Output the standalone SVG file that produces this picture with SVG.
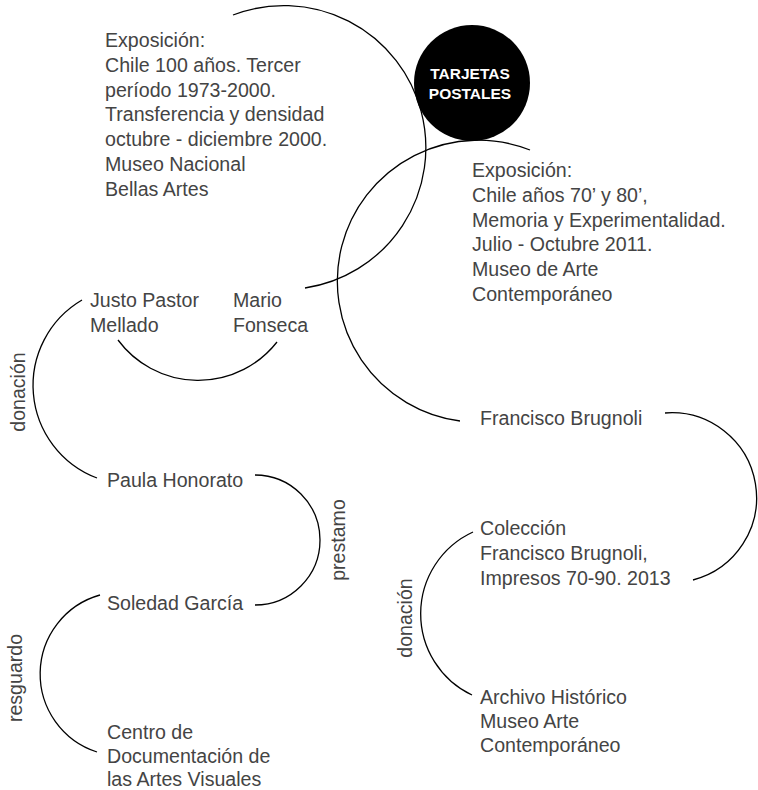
<svg xmlns="http://www.w3.org/2000/svg" width="758" height="790" viewBox="0 0 758 790">
<style>
.t{font-family:"Liberation Sans",Arial,sans-serif;font-size:19.6px;fill:#444}
.c{fill:none;stroke:#000;stroke-width:1.3}
.h{font-family:"Liberation Sans",Arial,sans-serif;font-size:15.5px;font-weight:bold;fill:#fff;text-anchor:middle}
.r{text-anchor:middle}
</style>
<rect width="758" height="790" fill="#fff"/>
<g id="connectors">
<path class="c" d="M233,15 A142,142 0 1 1 305,288"/>
<path class="c" d="M530,150 A141,141 0 1 0 460,421"/>
<path class="c" d="M118,340 A100,100 0 0 0 277,342"/>
<path class="c" d="M82,300 A99,99 0 0 0 97,478"/>
<path class="c" d="M255,475 A65,65 0 0 1 255,605"/>
<path class="c" d="M100,595 A82,82 0 0 0 97,752"/>
<path class="c" d="M473,532 A90,90 0 0 0 472,695"/>
<path class="c" d="M665,413 A85,85 0 0 1 693,580"/>
</g>
<g id="tarjetas">
<circle cx="472" cy="83" r="58" fill="#000"/>
<text class="h" x="470" y="79">TARJETAS</text>
<text class="h" x="470" y="99">POSTALES</text>
</g>
<g id="expo1">
<text class="t" x="105" y="47">Exposición:</text>
<text class="t" x="105" y="71.8">Chile 100 años. Tercer</text>
<text class="t" x="105" y="96.6">período 1973-2000.</text>
<text class="t" x="105" y="121.4">Transferencia y densidad</text>
<text class="t" x="105" y="146.2">octubre - diciembre 2000.</text>
<text class="t" x="105" y="171">Museo Nacional</text>
<text class="t" x="105" y="195.8">Bellas Artes</text>
</g>
<g id="expo2">
<text class="t" x="472" y="177">Exposición:</text>
<text class="t" x="472" y="201.8">Chile años 70’ y 80’,</text>
<text class="t" x="472" y="226.6">Memoria y Experimentalidad.</text>
<text class="t" x="472" y="251.4">Julio - Octubre 2011.</text>
<text class="t" x="472" y="276.2">Museo de Arte</text>
<text class="t" x="472" y="301">Contemporáneo</text>
</g>
<g id="justo">
<text class="t" x="90" y="307">Justo Pastor</text>
<text class="t" x="90" y="332">Mellado</text>
</g>
<g id="mario">
<text class="t" x="233" y="307">Mario</text>
<text class="t" x="233" y="332">Fonseca</text>
</g>
<g id="paula"><text class="t" x="107" y="487">Paula Honorato</text></g>
<g id="brugnoli"><text class="t" x="480" y="425">Francisco Brugnoli</text></g>
<g id="coleccion">
<text class="t" x="480" y="535">Colección</text>
<text class="t" x="480" y="560">Francisco Brugnoli,</text>
<text class="t" x="480" y="585">Impresos 70-90. 2013</text>
</g>
<g id="soledad"><text class="t" x="107" y="610">Soledad García</text></g>
<g id="cedoc">
<text class="t" x="107" y="739">Centro de</text>
<text class="t" x="107" y="762.5">Documentación de</text>
<text class="t" x="107" y="786">las Artes Visuales</text>
</g>
<g id="archivo">
<text class="t" x="480" y="704">Archivo Histórico</text>
<text class="t" x="480" y="728">Museo Arte</text>
<text class="t" x="480" y="752">Contemporáneo</text>
</g>
<g id="labels">
<text class="t r" transform="translate(25,392) rotate(-90)">donación</text>
<text class="t r" transform="translate(345,540) rotate(-90)">prestamo</text>
<text class="t r" transform="translate(22,678) rotate(-90)">resguardo</text>
<text class="t r" transform="translate(412,618) rotate(-90)">donación</text>
</g>
</svg>
